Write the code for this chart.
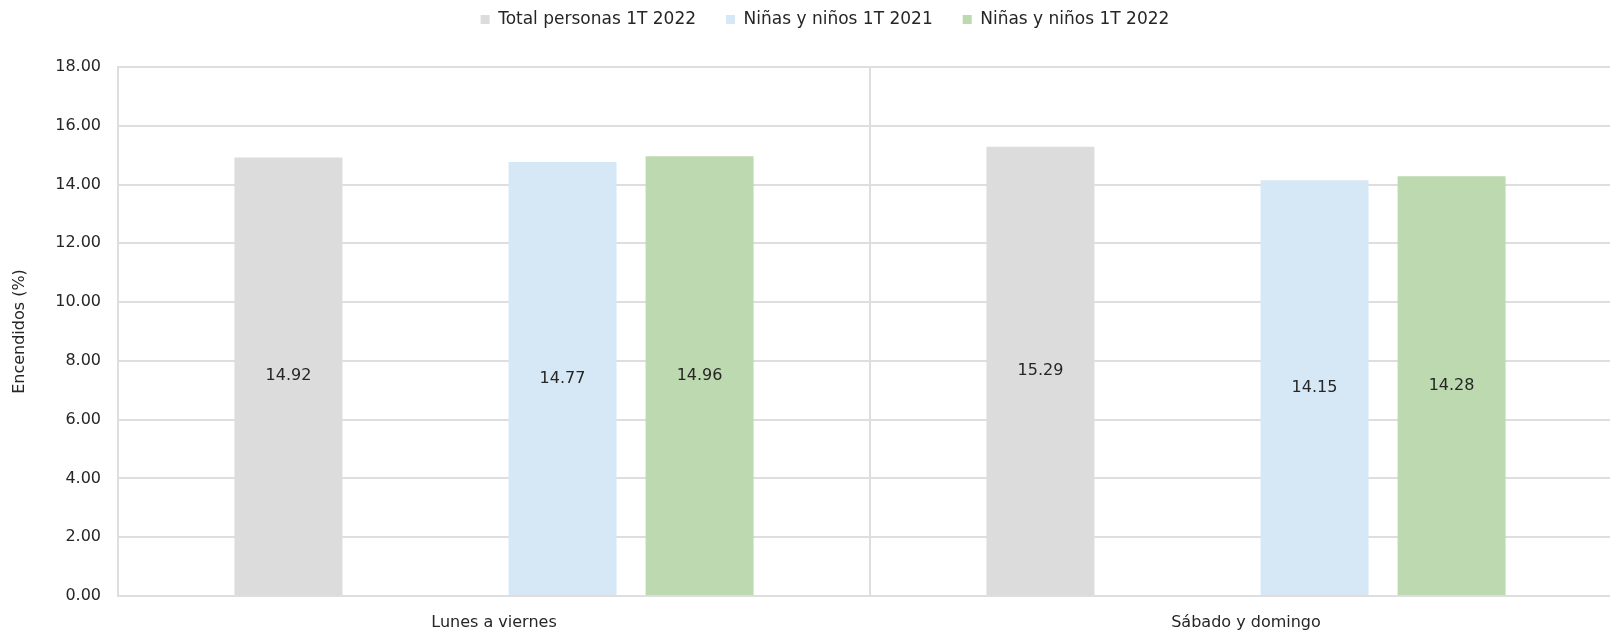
<!DOCTYPE html>
<html>
<head>
<meta charset="utf-8">
<script src="https://cdn.jsdelivr.net/npm/chart.js@4"></script>
<style>
  html, body { margin: 0; padding: 0; background: #fff; overflow: hidden; }
  #wrap { width: 1650px; height: 630px; }
</style>
</head>
<body>
<div id="wrap"><canvas id="myChart" width="1650" height="630"></canvas></div>
<script>
// categories and series
const categories = ["Lunes a viernes", "Sábado y domingo"];
const totalPersonas2022 = [14.92, 15.29];
const emptySlot = [null, null]; // the original chart keeps an empty series slot here
const ninos2021 = [14.77, 14.15];
const ninos2022 = [14.96, 14.28];
const yTicks = [0, 2, 4, 6, 8, 10, 12, 14, 16, 18];

const FONT = "'DejaVu Sans', sans-serif";
const GRID = "#dedede";

// draw the value in the middle of each bar (Excel style "center" labels)
const barLabels = {
    id: "barLabels",
    afterDatasetsDraw(chart) {
        const ctx = chart.ctx;
        ctx.save();
        ctx.font = "16px " + FONT;
        ctx.fillStyle = "#262626";
        ctx.textAlign = "center";
        ctx.textBaseline = "middle";
        chart.data.datasets.forEach((ds, i) => {
            const meta = chart.getDatasetMeta(i);
            meta.data.forEach((bar, j) => {
                const v = ds.data[j];
                if (v === null || v === undefined) return;
                const p = bar.getProps(["x", "y", "base"], true);
                ctx.fillText(v.toFixed(2), p.x, (p.y + p.base) / 2);
            });
        });
        ctx.restore();
    },
};

// legend band is kept short, and centred on the whole canvas
const legendFit = {
    id: "legendFit",
    beforeInit(chart) {
        const lg = chart.legend;
        if (!lg) return;
        const fit = lg.fit;
        lg.fit = function () {
            fit.call(this);
            this.height = 86;
        };
    },
    afterLayout(chart) {
        if (chart.legend) chart.legend.right = chart.width;
    },
};

const ctx = document.getElementById("myChart").getContext("2d");
new window.Chart(ctx, {
    type: "bar",
    data: {
        labels: categories,
        datasets: [
            {
                label: "Total personas 1T 2022",
                data: totalPersonas2022,
                backgroundColor: "#dcdcdc",
            },
            {
                label: "",
                data: emptySlot,
                backgroundColor: "rgba(0,0,0,0)",
            },
            {
                label: "Niñas y niños 1T 2021",
                data: ninos2021,
                backgroundColor: "#d6e7f6",
            },
            {
                label: "Niñas y niños 1T 2022",
                data: ninos2022,
                backgroundColor: "#bdd9b0",
            },
        ],
    },
    options: {
        responsive: false,
        animation: false,
        categoryPercentage: 0.729,
        barPercentage: 0.788,
        layout: {
            padding: { top: -19, left: 0, right: 28, bottom: 0 },
        },
        plugins: {
            legend: {
                position: "top",
                labels: {
                    font: { family: FONT, size: 17 },
                    color: "#262626",
                    boxWidth: 9,
                    boxHeight: 9,
                    padding: 30,
                    filter: (item) => item.text !== "",
                },
            },
            tooltip: { enabled: false },
        },
        scales: {
            x: {
                offset: true,
                grid: {
                    offset: true,
                    drawTicks: false,
                    color: GRID,
                    lineWidth: 2,
                },
                border: { color: GRID, width: 2 },
                ticks: {
                    font: { family: FONT, size: 16 },
                    color: "#262626",
                    padding: 17,
                },
                afterFit: (scale) => {
                    scale.height = 34;
                },
            },
            y: {
                min: 0,
                max: 18,
                afterBuildTicks: (scale) => {
                    scale.ticks = yTicks.map((v) => ({ value: v }));
                },
                grid: {
                    drawTicks: false,
                    color: GRID,
                    lineWidth: 2,
                },
                border: { color: GRID, width: 2 },
                ticks: {
                    font: { family: FONT, size: 16 },
                    color: "#262626",
                    padding: 17,
                    callback: (v) => Number(v).toFixed(2),
                },
                title: {
                    display: true,
                    text: "Encendidos (%)",
                    font: { family: FONT, size: 16 },
                    color: "#262626",
                    padding: { top: 10, bottom: 0 },
                },
                afterFit: (scale) => {
                    scale.width = 118;
                },
            },
        },
    },
    plugins: [barLabels, legendFit],
});
</script>
</body>
</html>
